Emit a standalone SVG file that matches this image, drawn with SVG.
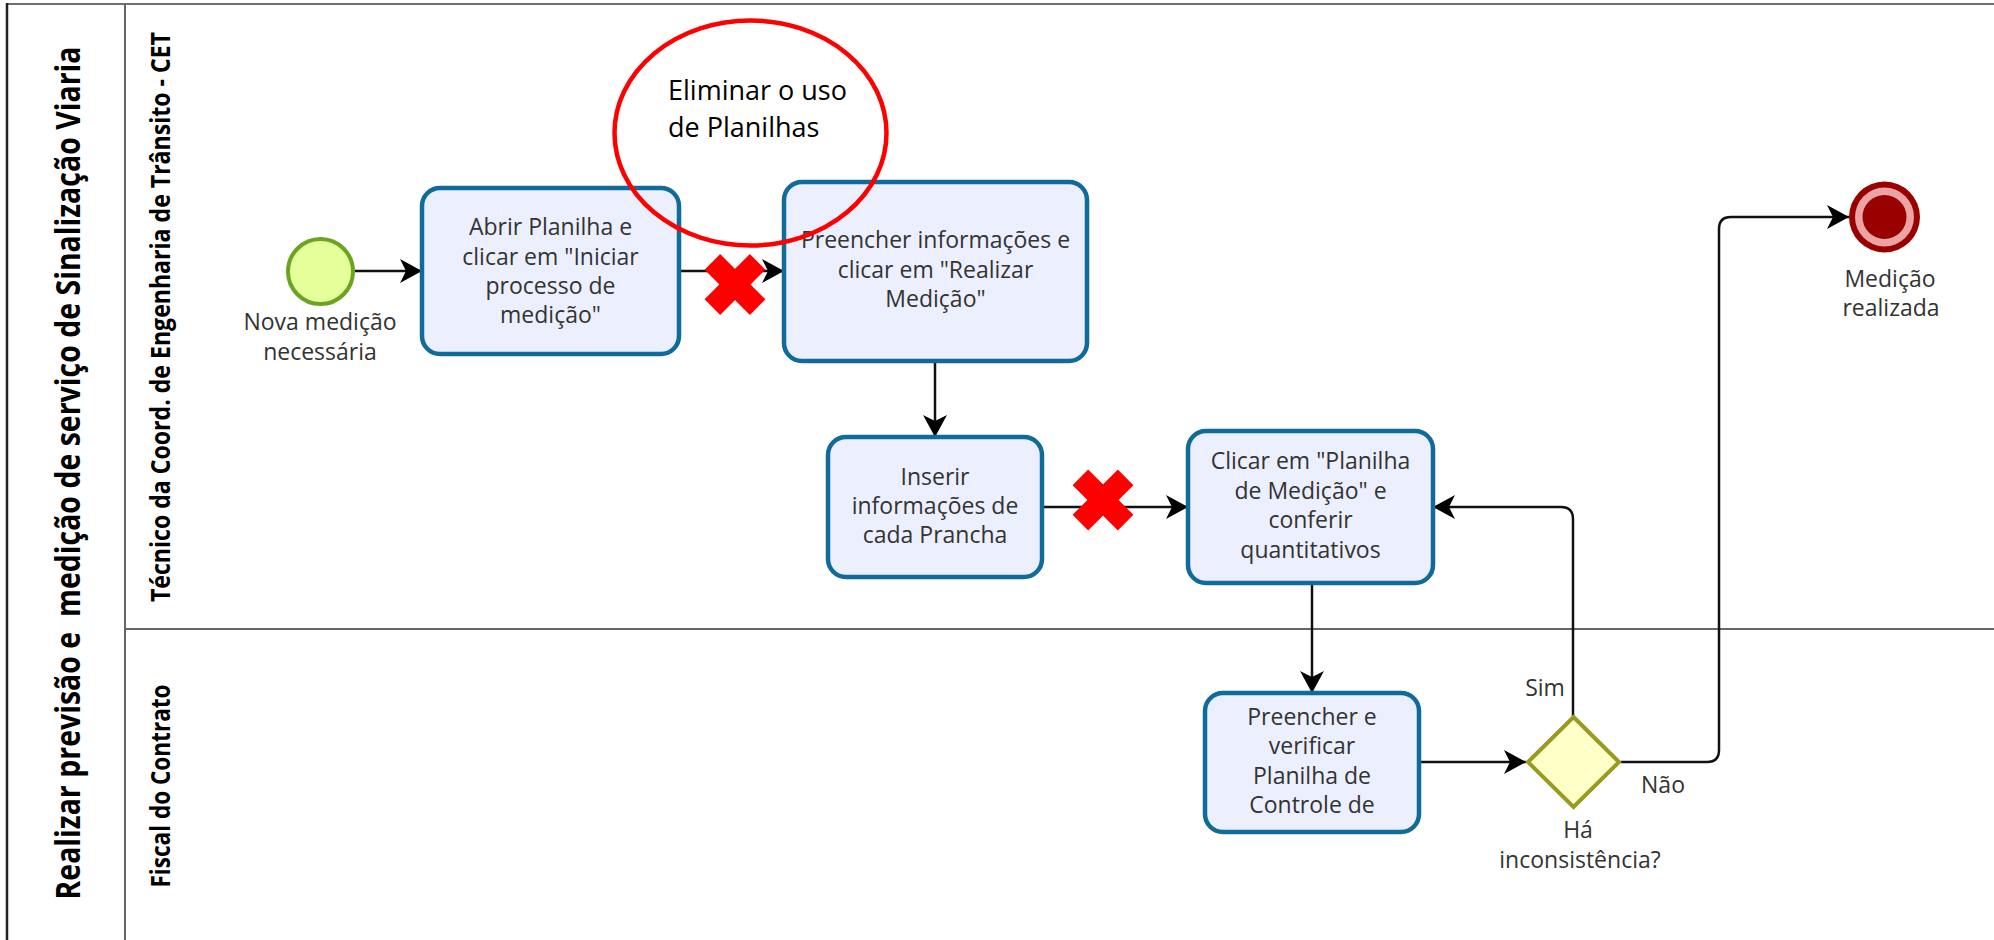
<svg xmlns="http://www.w3.org/2000/svg" width="1994" height="940" viewBox="0 0 1994 940">
<defs>
<style>
.t{font-family:"Open Sans","Noto Sans",sans-serif;font-size:23px;fill:#333;text-anchor:middle}
.hd{font-family:"Open Sans","Noto Sans",sans-serif;font-weight:bold;fill:#000;text-anchor:middle}
.task{fill:#eceffe;stroke:#106b9b;stroke-width:4.5}
.c{fill:none;stroke:#111;stroke-width:2.5}
.x{fill:#ff0000}
</style>
<marker id="ah" viewBox="0 0 22 24" refX="22" refY="12" markerWidth="22" markerHeight="24" orient="auto" markerUnits="userSpaceOnUse"><path d="M0,0 L22,12 L0,24 L6,12 Z" fill="#000"/></marker>
</defs>
<rect width="1994" height="940" fill="#fff"/>
<g id="pool">
<line x1="7" y1="4" x2="1994" y2="4" stroke="#6e6e6e" stroke-width="2"/>
<line x1="7" y1="3" x2="7" y2="940" stroke="#222" stroke-width="2.5"/>
<line x1="125" y1="4" x2="125" y2="940" stroke="#666" stroke-width="2"/>
<line x1="125" y1="629" x2="1994" y2="629" stroke="#666" stroke-width="2"/>
<text class="hd" font-size="34" xml:space="preserve" transform="translate(80,473) rotate(-90)" textLength="853" lengthAdjust="spacingAndGlyphs">Realizar previsão e  medição de serviço de Sinalização Viaria</text>
<text class="hd" font-size="26" transform="translate(170,317) rotate(-90)" textLength="570" lengthAdjust="spacingAndGlyphs">Técnico da Coord. de Engenharia de Trânsito - CET</text>
<text class="hd" font-size="26" transform="translate(170,786) rotate(-90)" textLength="203" lengthAdjust="spacingAndGlyphs">Fiscal do Contrato</text>
</g>
<g id="connectors">
<path class="c" d="M355,271 H422" marker-end="url(#ah)"/>
<path class="c" d="M680,271 H784" marker-end="url(#ah)"/>
<path class="c" d="M935,361 V437" marker-end="url(#ah)"/>
<path class="c" d="M1042,507 H1188" marker-end="url(#ah)"/>
<path class="c" d="M1312,583 V693" marker-end="url(#ah)"/>
<path class="c" d="M1419,762 H1526" marker-end="url(#ah)"/>
<path class="c" d="M1573,716 V519 Q1573,507 1561,507 H1433" marker-end="url(#ah)"/>
<path class="c" d="M1621,762 H1707 Q1719,762 1719,750 V229 Q1719,217 1731,217 H1849" marker-end="url(#ah)"/>
<text class="t" x="1545" y="696">Sim</text>
<text class="t" x="1663" y="793">Não</text>
</g>
<g id="start">
<circle cx="320.5" cy="271.5" r="32.5" fill="#e5ff9a" stroke="#6aa422" stroke-width="4"/>
<text class="t" x="320" y="330">Nova medição</text>
<text class="t" x="320" y="360">necessária</text>
</g>
<g id="task1">
<rect class="task" x="422" y="188" width="257" height="166" rx="18"/>
<text class="t" x="550.5" y="235">Abrir Planilha e</text>
<text class="t" x="550.5" y="265">clicar em "Iniciar</text>
<text class="t" x="550.5" y="294">processo de</text>
<text class="t" x="550.5" y="323">medição"</text>
</g>
<g id="task2">
<rect class="task" x="784" y="182" width="303" height="179" rx="18"/>
<text class="t" x="935.5" y="248">Preencher informações e</text>
<text class="t" x="935.5" y="278">clicar em "Realizar</text>
<text class="t" x="935.5" y="307">Medição"</text>
</g>
<g id="task3">
<rect class="task" x="828" y="437" width="214" height="140" rx="18"/>
<text class="t" x="935" y="485">Inserir</text>
<text class="t" x="935" y="514">informações de</text>
<text class="t" x="935" y="543">cada Prancha</text>
</g>
<g id="task4">
<rect class="task" x="1188" y="431" width="245" height="152" rx="18"/>
<text class="t" x="1310.5" y="469">Clicar em "Planilha</text>
<text class="t" x="1310.5" y="499">de Medição" e</text>
<text class="t" x="1310.5" y="528">conferir</text>
<text class="t" x="1310.5" y="558">quantitativos</text>
</g>
<g id="task5">
<rect class="task" x="1205" y="693" width="214" height="139" rx="18"/>
<text class="t" x="1312" y="725">Preencher e</text>
<text class="t" x="1312" y="754">verificar</text>
<text class="t" x="1312" y="784">Planilha de</text>
<text class="t" x="1312" y="813">Controle de</text>
</g>
<g id="gateway">
<path d="M1573.5,717 L1619,762 L1573.5,807 L1528,762 Z" fill="#ffffc8" stroke="#9a9a20" stroke-width="4"/>
<text class="t" x="1578" y="838">Há</text>
<text class="t" x="1580" y="868">inconsistência?</text>
</g>
<g id="end">
<circle cx="1884.5" cy="217" r="35.5" fill="#990000"/>
<circle cx="1884.5" cy="217" r="29.5" fill="#eba3a3"/>
<circle cx="1884.5" cy="217" r="22" fill="#990000"/>
<text class="t" x="1890" y="287">Medição</text>
<text class="t" x="1891" y="316">realizada</text>
</g>
<g id="note">
<ellipse cx="750.5" cy="133" rx="136" ry="112.5" fill="none" stroke="#ff0000" stroke-width="4.5"/>
<text font-family="'Open Sans','Noto Sans',sans-serif" font-size="27" fill="#000" x="668" y="100">Eliminar o uso</text>
<text font-family="'Open Sans','Noto Sans',sans-serif" font-size="27" fill="#000" x="668" y="137">de Planilhas</text>
</g>
<g id="cross1" class="x" transform="translate(735,284.5) rotate(45)">
<rect x="-32" y="-11" width="64" height="22"/>
<rect x="-11" y="-32" width="22" height="64"/>
</g>
<g id="cross2" class="x" transform="translate(1103,500) rotate(45)">
<rect x="-32" y="-11" width="64" height="22"/>
<rect x="-11" y="-32" width="22" height="64"/>
</g>
</svg>
